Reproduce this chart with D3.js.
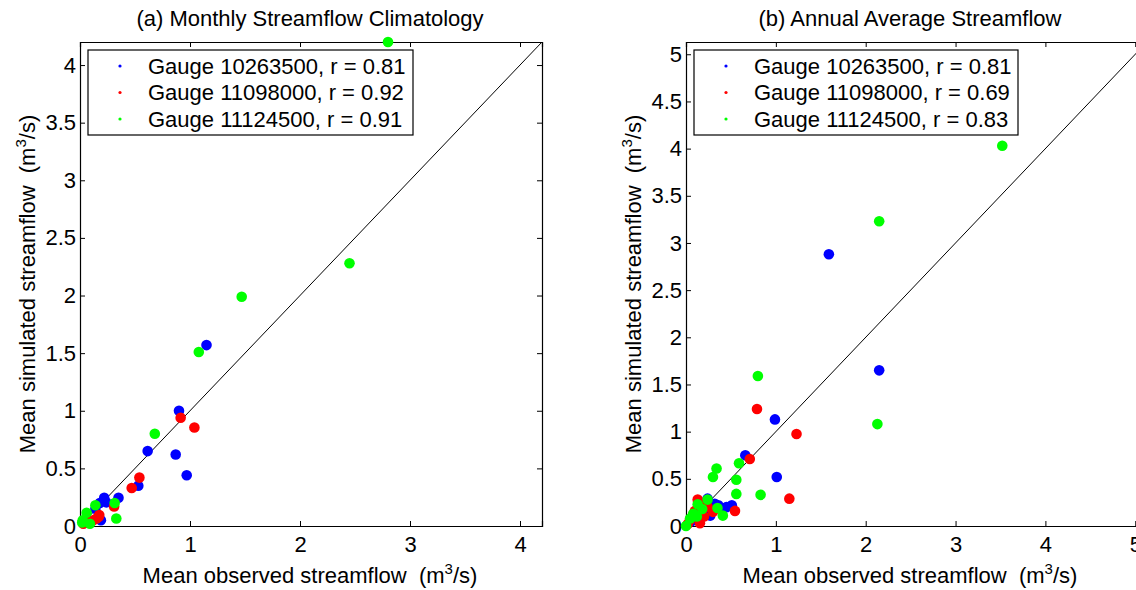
<!DOCTYPE html>
<html>
<head>
<meta charset="utf-8">
<script src="https://cdn.jsdelivr.net/npm/d3@7"></script>
<style>
  body { margin: 0; background: #fff; }
  text { font-family: "Liberation Sans", Arial, Helvetica, sans-serif; fill: #000; white-space: pre; }
</style>
</head>
<body>
<div id="chart"></div>
<script>
var svgWidth = 1136;
var svgHeight = 590;

var gauges = ["10263500", "11098000", "11124500"];
var colors = ["#0000ff", "#ff0000", "#00ff00"];

// (a) monthly climatology, [observed, simulated]
var monthlyBlue = [[1.15, 1.57], [0.90, 1.00], [0.615, 0.65], [0.87, 0.62], [0.97, 0.44], [0.53, 0.35],
  [0.35, 0.245], [0.22, 0.245], [0.18, 0.20], [0.24, 0.205], [0.19, 0.05], [0.14, 0.15]];
var monthlyRed = [[0.915, 0.94], [1.04, 0.855], [0.54, 0.42], [0.47, 0.33], [0.31, 0.17], [0.175, 0.095],
  [0.15, 0.065], [0.12, 0.05], [0.03, 0.02], [0.05, 0.03], [0.17, 0.08], [0.08, 0.04]];
var monthlyGreen = [[2.80, 4.20], [2.45, 2.28], [1.47, 1.99], [1.08, 1.51], [0.68, 0.80], [0.315, 0.20],
  [0.33, 0.065], [0.14, 0.18], [0.06, 0.115], [0.025, 0.05], [0.09, 0.02], [0.02, 0.03]];
var monthlyR = ["0.81", "0.92", "0.91"];

// (b) annual averages, [observed, simulated]
var annualBlue = [[1.59, 2.88], [2.15, 1.65], [0.99, 1.13], [0.66, 0.75], [1.01, 0.52], [0.51, 0.22],
  [0.45, 0.20], [0.40, 0.19], [0.32, 0.235], [0.24, 0.29], [0.27, 0.11], [0.20, 0.15], [0.15, 0.10],
  [0.10, 0.08], [0.06, 0.05], [0.28, 0.20], [0.36, 0.22]];
var annualRed = [[0.79, 1.24], [1.23, 0.975], [0.71, 0.71], [1.15, 0.29], [0.545, 0.16], [0.13, 0.28],
  [0.10, 0.16], [0.20, 0.10], [0.155, 0.03], [0.045, 0.065], [0.24, 0.205], [0.02, 0.02], [0.08, 0.12],
  [0.30, 0.15], [0.18, 0.22]];
var annualGreen = [[3.52, 4.03], [2.15, 3.23], [0.80, 1.59], [2.13, 1.08], [0.34, 0.61], [0.30, 0.52],
  [0.59, 0.665], [0.56, 0.49], [0.56, 0.34], [0.83, 0.33], [0.35, 0.19], [0.41, 0.11], [0.24, 0.28],
  [0.13, 0.23], [0.12, 0.10], [0.045, 0.08], [0.0, 0.0], [0.18, 0.18], [0.08, 0.13]];
var annualR = ["0.81", "0.69", "0.83"];

var ticksA = [0, 1, 2, 3, 4];
var yTicksA = [0, 0.5, 1, 1.5, 2, 2.5, 3, 3.5, 4];
var ticksB = [0, 1, 2, 3, 4, 5];
var yTicksB = [0, 0.5, 1, 1.5, 2, 2.5, 3, 3.5, 4, 4.5, 5];

var svg = d3.select("#chart")
  .append("svg")
  .attr("width", svgWidth)
  .attr("height", svgHeight);

function drawPanel(p) {
  var x = d3.scaleLinear().domain([0, p.max]).range([p.left, p.left + p.max * p.xUnit]);
  var y = d3.scaleLinear().domain([0, p.max]).range([526, 42]);
  var g = svg.append("g");
  var x0 = x(0), x1 = x(p.max), y0 = y(0), y1 = y(p.max);

  // box axes, ticks inward on all four sides
  g.append("g").attr("transform", `translate(0,${y0})`)
    .call(d3.axisBottom(x).tickValues(p.xTicks).tickSize(-5).tickPadding(10).tickFormat(d3.format("~g")));
  g.append("g").attr("transform", `translate(0,${y1})`)
    .call(d3.axisTop(x).tickValues(p.xTicks).tickSize(-5).tickFormat(""));
  g.append("g").attr("transform", `translate(${x0},0)`)
    .call(d3.axisLeft(y).tickValues(p.yTicks).tickSize(-5).tickPadding(4).tickFormat(d3.format("~g")));
  g.append("g").attr("transform", `translate(${x1},0)`)
    .call(d3.axisRight(y).tickValues(p.yTicks).tickSize(-5).tickFormat(""));
  g.selectAll(".domain").attr("stroke", "#000").attr("stroke-width", 1.2);
  g.selectAll(".tick line").attr("stroke", "#000");
  g.selectAll(".tick text").style("font-size", "22px")
    .style("font-family", "'Liberation Sans', Arial, sans-serif").attr("fill", "#000");

  // 1:1 line
  g.append("line")
    .attr("x1", x(0)).attr("y1", y(0))
    .attr("x2", x(p.max)).attr("y2", y(p.max))
    .attr("stroke", "#000").attr("stroke-width", 1);

  p.series.forEach(function(s, i) {
    g.selectAll(null)
      .data(s)
      .enter()
      .append("circle")
      .attr("cx", d => x(d[0]))
      .attr("cy", d => y(Math.min(d[1], p.max)))
      .attr("r", 5.3)
      .attr("fill", colors[i]);
  });

  // legend
  var lg = g.append("g");
  lg.append("rect")
    .attr("x", p.left + 8).attr("y", 50)
    .attr("width", p.legendW).attr("height", 85)
    .attr("fill", "#fff").attr("stroke", "#000").attr("stroke-width", 1.2);
  gauges.forEach(function(name, i) {
    var ly = 66 + i * 26.5;
    lg.append("circle").attr("cx", p.left + 40).attr("cy", ly).attr("r", 1.6).attr("fill", colors[i]);
    lg.append("text")
      .attr("x", p.left + 68).attr("y", ly)
      .attr("dy", "0.36em")
      .style("font-size", "22px")
      .text(`Gauge ${name}, r = ${p.r[i]}`);
  });

  // title and labels
  g.append("text")
    .attr("x", p.titleX).attr("y", 26)
    .attr("text-anchor", "middle")
    .style("font-size", "22px")
    .text(p.title);

  var xl = g.append("text")
    .attr("x", p.titleX).attr("y", 583)
    .attr("text-anchor", "middle")
    .style("font-size", "22px");
  xl.append("tspan").text("Mean observed streamflow  (m");
  xl.append("tspan").attr("dy", -9).style("font-size", "15px").text("3");
  xl.append("tspan").attr("dy", 9).text("/s)");

  var yl = g.append("text")
    .attr("transform", `translate(${p.left - 45},284) rotate(-90)`)
    .attr("text-anchor", "middle")
    .style("font-size", "22px");
  yl.append("tspan").text("Mean simulated streamflow  (m");
  yl.append("tspan").attr("dy", -9).style("font-size", "15px").text("3");
  yl.append("tspan").attr("dy", 9).text("/s)");
}

drawPanel({
  left: 80, xUnit: 110, max: 4.2, xTicks: ticksA, yTicks: yTicksA,
  series: [monthlyBlue, monthlyRed, monthlyGreen], r: monthlyR,
  legendW: 325, titleX: 310, title: "(a) Monthly Streamflow Climatology"
});

drawPanel({
  left: 686, xUnit: 89.85, max: 5.13, xTicks: ticksB, yTicks: yTicksB,
  series: [annualBlue, annualRed, annualGreen], r: annualR,
  legendW: 324, titleX: 910, title: "(b) Annual Average Streamflow"
});
</script>
</body>
</html>
